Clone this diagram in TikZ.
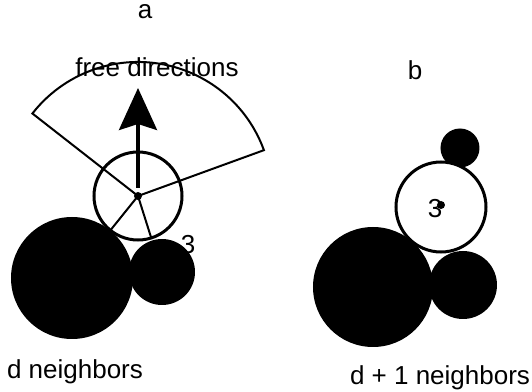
\documentclass[tikz,border=0pt]{standalone}
\usepackage{fontspec}
\setmainfont{Liberation Sans}
\usetikzlibrary{calc, arrows.meta, positioning}

\begin{document}
\begin{tikzpicture}[>=Stealth, x=0.5pt, y=0.5pt, font=\fontsize{13}{15}\selectfont]
  \useasboundingbox (0,0) rectangle (532,392);
  \def\rc{44}
  % ---- panel a: d neighbors
  \coordinate (ca) at (138,196);
  \coordinate (bigA) at (72,114);
  \coordinate (smallA) at (162,120);
  \coordinate (tipA) at (138,304);
  \node (lbla) at (145,380) {a};
  % neighbour spheres
  \fill (bigA) circle (61);
  \fill (smallA) circle (33);
  % central sphere
  \draw[line width=1.5pt, fill=white] (ca) circle (\rc);
  % cone of free directions
  \draw[line width=1pt] (ca) -- ++(20:134) arc (20:142:134) -- cycle;
  % contacts
  \draw[line width=1pt] (ca) -- ($(ca)!0.42!(bigA)$);
  \draw[line width=1pt] (ca) -- ($(ca)!0.55!(smallA)$);
  \draw[->, line width=1.75pt, >={Stealth[length=21pt, width=19pt, inset=3pt]}] ($(ca)+(0,8)$) -- (tipA);
  \fill (ca) circle (4);
  \node (n3a) at (188,147) {3};
  \node (fd) at (157,325) {free directions};
  \node (dn) at (75,20) {d neighbors};
  % ---- panel b: d+1 neighbors
  \coordinate (cb) at (441,185);
  \coordinate (bigB) at (373,105);
  \coordinate (smallB) at (463,107);
  \coordinate (topB) at (460,244);
  \node (lblb) at (415,322) {b};
  \fill (bigB) circle (60);
  \fill (smallB) circle (34);
  \fill (topB) circle (19.5);
  \draw[line width=1.5pt, fill=white] (cb) circle (45);
  \node (n3b) at (435,183) {3};
  \fill (441,187) circle (4);
  \node (dn1) at (440,14) {d + 1 neighbors};
\end{tikzpicture}
\end{document}
